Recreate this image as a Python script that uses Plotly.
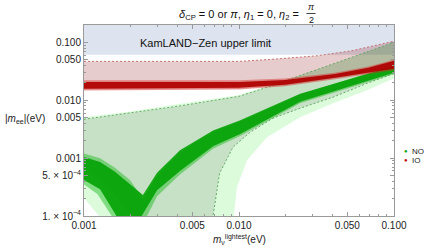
import math
import plotly.graph_objects as go

# ---------------- data (eV) ----------------
x_range = [0.001, 0.1]
y_range = [1e-4, 0.2]
kz_limit = 0.061          # KamLAND-Zen upper limit (lower edge of blue band)

# NO 3-sigma region (light green)
no3_up_m   = [0.001, 0.002, 0.004, 0.01, 0.02, 0.05, 0.1]
no3_up_mee = [5.1e-3, 6.4e-3, 8.5e-3, 0.0123, 0.0222, 0.0515, 0.101]
no3_lo_m   = [0.1, 0.0669, 0.0404, 0.0248, 0.01516, 0.01127, 0.0097, 0.009, 0.00127, 0.00125, 0.001177, 0.001093, 0.001]
no3_lo_mee = [0.024, 0.0149, 8.9e-3, 5.1e-3, 2.3e-3, 9.2e-4, 3.16e-4, 5e-5, 5e-5, 1e-4, 1.22e-4, 1.55e-4, 2.04e-4]

# NO best-fit region (grey green, dashed edges)
nobf_up_m   = [0.001, 0.002, 0.00416, 0.01, 0.0154, 0.0255, 0.0416, 0.0685, 0.1]
nobf_up_mee = [4.7e-3, 6.0e-3, 8.0e-3, 0.0117, 0.017, 0.0275, 0.0435, 0.0686, 0.1]
nobf_lo_m   = [0.1, 0.0669, 0.0404, 0.0248, 0.01656, 0.01178, 0.00915, 0.0075, 0.0068, 0.0067]
nobf_lo_mee = [0.029, 0.0196, 0.0113, 7.3e-3, 4.9e-3, 2.8e-3, 1.55e-3, 5.5e-4, 1e-4, 5e-5]
nobf_arc_m   = [0.0021, 0.00204, 0.00184, 0.001585, 0.00127, 0.001]
nobf_arc_mee = [5e-5, 1e-4, 1.37e-4, 2.3e-4, 4.2e-4, 7.3e-4]

# IO best-fit region (pink)
io_up_m   = [0.001, 0.01, 0.0179, 0.0324, 0.0536, 0.0754, 0.1]
io_up_mee = [0.047, 0.047, 0.052, 0.059, 0.072, 0.088, 0.105]
io_lo_m   = [0.1, 0.0685, 0.0416, 0.0198, 0.01, 0.001]
io_lo_mee = [0.0343, 0.0292, 0.024, 0.0181, 0.0157, 0.0152]

# IO scatter band (dark red core + light fringe)
io_pts_top_m   = [0.001, 0.01, 0.0198, 0.0416, 0.0685, 0.1]
io_pts_top_mee = [0.0208, 0.0208, 0.0225, 0.0285, 0.0365, 0.048]
io_pts_bot_m   = [0.1, 0.0685, 0.0416, 0.0198, 0.01, 0.001]
io_pts_bot_mee = [0.0350, 0.0298, 0.0245, 0.0185, 0.0164, 0.0158]
io_fr_top_mee  = [0.0222, 0.0222, 0.0238, 0.030, 0.0385, 0.050]
io_fr_bot_mee  = [0.0330, 0.0282, 0.0232, 0.0175, 0.0153, 0.0148]

# NO scatter cloud (green) outline: core and sparse fringe
no_pts_m   = [0.001, 0.00127, 0.001585, 0.00198, 0.0024, 0.00296, 0.00416, 0.0068, 0.0101, 0.0248, 0.1,
              0.1, 0.0248, 0.0101, 0.0068, 0.00416, 0.00296, 0.0023, 0.00166, 0.00127, 0.001]
no_pts_mee = [1.05e-3, 8.6e-4, 5.8e-4, 3.5e-4, 2.3e-4, 5.6e-4, 1.37e-3, 3.0e-3, 4.45e-3, 0.013, 0.039,
              0.0298, 9.4e-3, 2.6e-3, 1.6e-3, 6.0e-4, 2.8e-4, 9e-5, 9e-5, 2.9e-4, 4.2e-4]
no_fr_m    = [0.001, 0.00127, 0.001585, 0.00198, 0.0024, 0.00296, 0.00416, 0.0068, 0.0101, 0.0248, 0.1,
              0.1, 0.0248, 0.0101, 0.0068, 0.00416, 0.00296, 0.0025, 0.00155, 0.00122, 0.001]
no_fr_mee  = [1.2e-3, 1.0e-3, 6.8e-4, 4.2e-4, 2.0e-4, 5.0e-4, 1.28e-3, 2.85e-3, 4.25e-3, 0.0126, 0.0405,
              0.0285, 8.9e-3, 2.4e-3, 1.45e-3, 5.2e-4, 2.2e-4, 9e-5, 9e-5, 2.4e-4, 3.5e-4]

x_ticks = [0.001, 0.005, 0.01, 0.05, 0.1]
x_ticktext = ["0.001", "0.005", "0.010", "0.050", "0.100"]
y_ticks = [1e-4, 5e-4, 0.001, 0.005, 0.01, 0.05, 0.1]
y_ticktext = ["1. × 10<sup>−4</sup>", "5. × 10<sup>−4</sup>", "0.001", "0.005", "0.010", "0.050", "0.100"]

legend_names = ["NO", "IO"]
legend_colors = ["#11a011", "#c00000"]

# ---------------- figure ----------------
W, H = 442, 251
L, R, T, B = 84, 48, 25, 35
PW, PH = W - L - R, H - T - B

def px(xp):
    return (xp - L) / PW

def py(yp):
    return (H - B - yp) / PH

fig = go.Figure()

def poly(xs, ys, color):
    fig.add_trace(go.Scatter(x=xs, y=ys, fill="toself", fillcolor=color, mode="lines",
                             line=dict(width=0), hoverinfo="skip", showlegend=False))

def dline(xs, ys, color):
    fig.add_trace(go.Scatter(x=xs, y=ys, mode="lines", line=dict(color=color, width=0.9, dash="2px,2px"),
                             hoverinfo="skip", showlegend=False))

# KamLAND-Zen band
poly([x_range[0], x_range[1], x_range[1], x_range[0]], [kz_limit, kz_limit, y_range[1], y_range[1]], "rgb(222,228,239)")
# IO region
poly(io_up_m + io_lo_m, io_up_mee + io_lo_mee, "rgba(130,0,0,0.2)")
# NO 3 sigma region
poly(no3_up_m + no3_lo_m, no3_up_mee + no3_lo_mee, "rgba(0,230,0,0.14)")
# NO best fit region
poly(nobf_up_m + nobf_lo_m + nobf_arc_m, nobf_up_mee + nobf_lo_mee + nobf_arc_mee, "rgba(60,40,60,0.12)")
# dashed edges
dline(io_up_m, io_up_mee, "rgb(195,100,100)")
dline(nobf_up_m, nobf_up_mee, "rgb(90,165,90)")
dline(nobf_lo_m, nobf_lo_mee, "rgb(90,165,90)")
# scatter clouds
poly(no_fr_m, no_fr_mee, "rgba(20,185,20,0.45)")
poly(no_pts_m, no_pts_mee, "rgba(0,160,0,0.88)")
poly(io_pts_top_m + io_pts_bot_m, io_fr_top_mee + io_fr_bot_mee, "rgba(220,40,40,0.45)")
poly(io_pts_top_m + io_pts_bot_m, io_pts_top_mee + io_pts_bot_mee, "rgba(175,0,0,0.92)")

minor_x = [a * 10 ** e for e in (-3, -2) for a in (2, 3, 4, 6, 7, 8, 9)]
minor_y = [a * 10 ** e for e in (-4, -3, -2, -1) for a in (2, 3, 4, 6, 7, 8, 9)]
minor_y = [v for v in minor_y if v <= y_range[1]]

axis_common = dict(type="log", showgrid=False, zeroline=False, showline=True, linecolor="#9a9a9a",
                   linewidth=1, mirror="ticks", ticks="inside", ticklen=4, tickcolor="#9a9a9a",
                   tickfont=dict(family="Liberation Sans, Arial", size=10, color="#222"))

fig.update_xaxes(range=[math.log10(x_range[0]), math.log10(x_range[1])], tickvals=x_ticks,
                 ticktext=x_ticktext,
                 minor=dict(tickvals=minor_x, ticks="inside", ticklen=2, tickcolor="#9a9a9a"),
                 **axis_common)
fig.update_yaxes(range=[math.log10(y_range[0]), math.log10(y_range[1])], tickvals=y_ticks,
                 ticktext=y_ticktext,
                 minor=dict(tickvals=minor_y, ticks="inside", ticklen=2, tickcolor="#9a9a9a"),
                 **axis_common)

font = "Liberation Sans, Arial"
ann = []
ann.append(dict(x=px(301), y=py(15), xref="paper", yref="paper", xanchor="right", yanchor="middle",
                text="<i>δ</i><sub>CP</sub> = 0 or <i>π</i>, <i>η</i><sub>1</sub> = 0, <i>η</i><sub>2</sub> =",
                showarrow=False, font=dict(family=font, size=11, color="#111")))
ann.append(dict(x=px(311), y=py(7), xref="paper", yref="paper", xanchor="center", yanchor="middle",
                text="<i>π</i>", showarrow=False, font=dict(family=font, size=9, color="#111")))
ann.append(dict(x=px(311), y=py(20), xref="paper", yref="paper", xanchor="center", yanchor="middle",
                text="2", showarrow=False, font=dict(family=font, size=9, color="#111")))
ann.append(dict(x=px(138), y=py(43), xref="paper", yref="paper", xanchor="left", yanchor="middle",
                text="KamLAND−Zen upper limit", showarrow=False, font=dict(family=font, size=11, color="#111")))
ann.append(dict(x=px(240), y=py(240), xref="paper", yref="paper", xanchor="center", yanchor="middle",
                text="<i>m</i><sub>ν</sub><sup>lightest</sup>(eV)", showarrow=False,
                font=dict(family=font, size=10, color="#222")))
ann.append(dict(x=px(25), y=py(119), xref="paper", yref="paper", xanchor="center", yanchor="middle",
                text="|<i>m</i><sub>ee</sub>|(eV)", showarrow=False, font=dict(family=font, size=10, color="#222")))
for i, (nm, col) in enumerate(zip(legend_names, legend_colors)):
    yy = 151 + 9 * i
    ann.append(dict(x=px(406), y=py(yy), xref="paper", yref="paper", xanchor="center", yanchor="middle",
                    text="●", showarrow=False, font=dict(family=font, size=6, color=col)))
    ann.append(dict(x=px(410), y=py(yy), xref="paper", yref="paper", xanchor="left", yanchor="middle",
                    text=nm, showarrow=False, font=dict(family=font, size=8, color="#222")))

shapes = [dict(type="line", xref="paper", yref="paper", x0=px(306.5), x1=px(315.5), y0=py(13.5), y1=py(13.5),
               line=dict(color="#111", width=0.8))]

fig.update_layout(width=W, height=H, autosize=False, margin=dict(l=L, r=R, t=T, b=B),
                  plot_bgcolor="white", paper_bgcolor="white", showlegend=False,
                  annotations=ann, shapes=shapes)

fig.write_html("out.html", config={"displayModeBar": False, "staticPlot": True},
               post_script="document.body.style.margin='0';document.body.style.overflow='hidden';")
